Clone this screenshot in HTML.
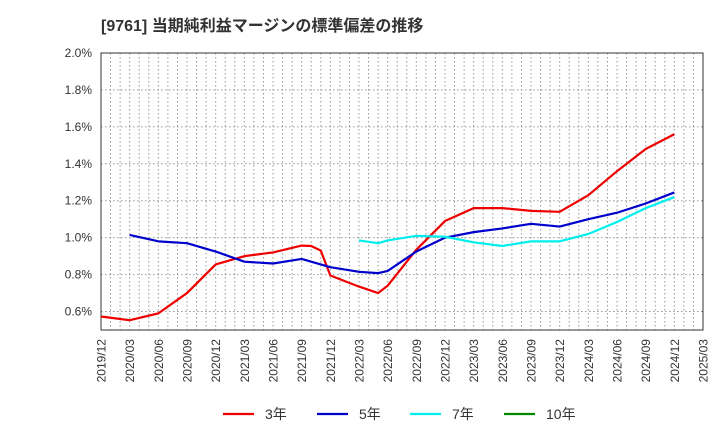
<!DOCTYPE html>
<html><head><meta charset="utf-8"><style>
body{margin:0;background:#fff;font-family:"Liberation Sans","Noto Sans CJK JP",sans-serif;}
svg text{font-family:"Liberation Sans","Noto Sans CJK JP",sans-serif;}
</style></head><body>
<svg id="chart" width="720" height="440" xmlns="http://www.w3.org/2000/svg">
<text x="101" y="31" font-size="16" font-weight="bold" fill="#333">[9761]  当期純利益マージンの標準偏差の推移</text>
<g id="grid"></g><g id="axes"></g><g id="series"></g><g id="legend"></g>
</svg>
<script>
const xTickLabels=["2019/12","2020/03","2020/06","2020/09","2020/12","2021/03","2021/06","2021/09","2021/12","2022/03","2022/06","2022/09","2022/12","2023/03","2023/06","2023/09","2023/12","2024/03","2024/06","2024/09","2024/12","2025/03"];
const yTicks=[0.6,0.8,1.0,1.2,1.4,1.6,1.8,2.0];
const dates3=["2019/12","2020/03","2020/06","2020/09","2020/12","2021/03","2021/06","2021/09","2021/10","2021/11","2021/12","2022/03","2022/05","2022/06","2022/09","2022/12","2023/03","2023/06","2023/09","2023/12","2024/03","2024/06","2024/09","2024/12"];
const values3=[0.573,0.553,0.59,0.70,0.855,0.90,0.92,0.957,0.955,0.93,0.795,0.735,0.70,0.74,0.935,1.09,1.16,1.16,1.145,1.14,1.23,1.36,1.48,1.56];
const dates5=["2020/03","2020/06","2020/09","2020/12","2021/03","2021/06","2021/09","2021/12","2022/03","2022/05","2022/06","2022/09","2022/12","2023/03","2023/06","2023/09","2023/12","2024/03","2024/06","2024/09","2024/12"];
const values5=[1.015,0.98,0.97,0.925,0.87,0.86,0.885,0.84,0.815,0.808,0.82,0.925,1.0,1.03,1.05,1.075,1.06,1.10,1.135,1.185,1.245];
const dates7=["2022/03","2022/05","2022/06","2022/09","2022/12","2023/03","2023/06","2023/09","2023/12","2024/03","2024/06","2024/09","2024/12"];
const values7=[0.985,0.97,0.985,1.01,1.005,0.975,0.955,0.98,0.98,1.02,1.085,1.16,1.22];
const dates10=[];
const values10=[];
const X0=101,X1=703,Y0=53,Y1=330;
function mi(d){const [y,m]=d.split("/").map(Number);return (y-2019)*12+m-12;}
function xs(d){return X0+mi(d)*(X1-X0)/63;}
function ys(v){return Y0+(2.0-v)*(Y1-Y0)/1.5;}
const NS="http://www.w3.org/2000/svg";
function mk(t,a,p){const e=document.createElementNS(NS,t);for(const k in a)e.setAttribute(k,a[k]);p.appendChild(e);return e;}
const grid=document.getElementById('grid'),axes=document.getElementById('axes'),ser=document.getElementById('series'),leg=document.getElementById('legend');
for(let i=1;i<63;i++){const x=X0+i*(X1-X0)/63;const l=mk('line',{x1:x,x2:x,y1:Y0,y2:Y1,stroke:'#999','stroke-dasharray':'1.5,2.5','stroke-width':1},grid);

}
yTicks.forEach(v=>{const y=ys(v);const l=mk('line',{x1:X0,x2:X1,y1:y,y2:y,stroke:'#999','stroke-dasharray':'1.5,2.5','stroke-width':1},grid);


const t=mk('text',{x:X0-9,y:y+4,'text-anchor':'end','font-size':12,fill:'#333'},axes);t.textContent=v.toFixed(1)+'%';

});
const fr=mk('rect',{x:X0,y:Y0,width:X1-X0,height:Y1-Y0,fill:'none',stroke:'#333','stroke-width':1},axes);


xTickLabels.forEach(d=>{const x=xs(d);const t=mk('text',{transform:`translate(${x+4.5},${Y1+9}) rotate(-90)`,'text-anchor':'end','font-size':12,fill:'#333'},axes);t.textContent=d;

});
function line(ds,vs,c,name){if(!ds.length)return;const p=mk('polyline',{points:ds.map((d,i)=>xs(d)+','+ys(vs[i])).join(' '),fill:'none',stroke:c,'stroke-width':2.2,'stroke-linejoin':'round'},ser);

}
line(dates3,values3,'#e00','series-3y');line(dates5,values5,'#00c','series-5y');line(dates7,values7,'#0ee','series-7y');line(dates10,values10,'#080','series-10y');
[['3年','#e00',223],['5年','#00c',317],['7年','#0ee',410],['10年','#080',504]].forEach(([n,c,x])=>{
const g=mk('g',{},leg);


mk('line',{x1:x,x2:x+31,y1:414,y2:414,stroke:c,'stroke-width':2.2},g);
const t=mk('text',{x:x+42,y:419,'font-size':14,fill:'#333'},g);t.textContent=n;});
</script>
</body></html>
